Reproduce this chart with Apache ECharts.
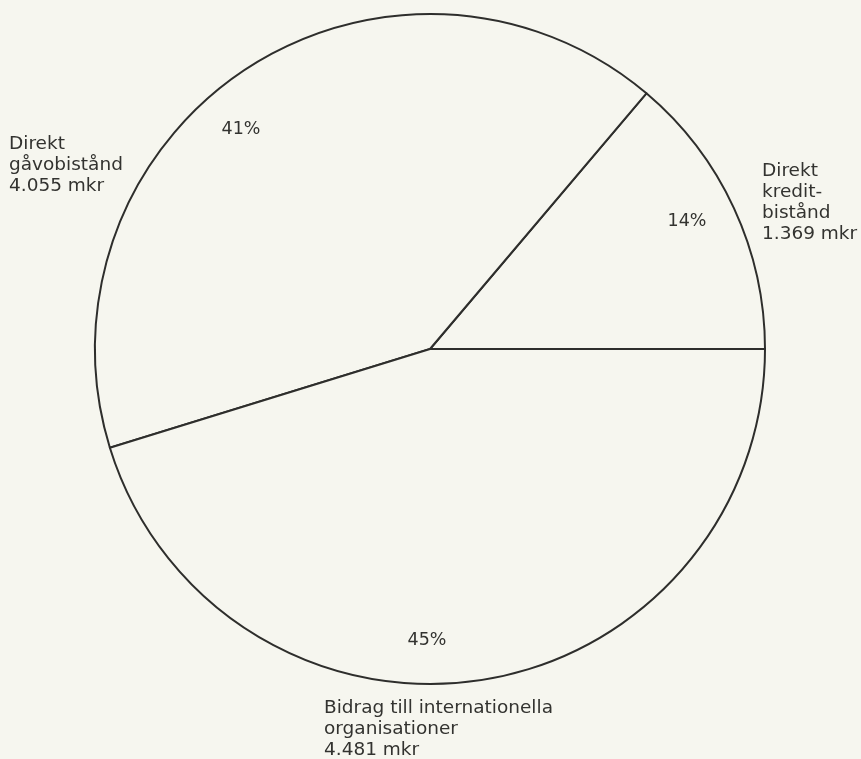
<!DOCTYPE html>
<html>
<head>
<meta charset="utf-8">
<script src="https://cdn.jsdelivr.net/npm/echarts@6/dist/echarts.min.js"></script>
<style>
  html, body { margin: 0; padding: 0; background: #f6f6ef; }
  #chart { width: 861px; height: 759px; }
</style>
</head>
<body>
<div id="chart"></div>
<script>
// Fördelning av biståndet (mkr)
const categories = ['Direkt\nkredit-\nbistånd', 'Direkt\ngåvobistånd', 'Bidrag till internationella\norganisationer'];
const amounts = [1369, 4055, 4481];

const FONT = '"DejaVu Sans", sans-serif';
const INK = '#333330';

// Placement of the percentage figures inside each sector, and of the name labels
const pctPos = [[687, 221], [241, 129], [427, 640]];
const namePos = [
  { x: 762, y: 161, align: 'left' },
  { x: 9, y: 134, align: 'left' },
  { x: 324, y: 698, align: 'left' }
];

function mkr(v) {
  return String(v).replace(/\B(?=(\d{3})+(?!\d))/g, '.') + ' mkr';
}

const chart = echarts.init(document.getElementById('chart'), null, { renderer: 'canvas' });

chart.setOption({
  backgroundColor: '#f6f6ef',
  animation: false,
  series: [{
    type: 'pie',
    center: [430, 349],
    radius: 335,
    startAngle: 0,
    clockwise: false,
    silent: true,
    itemStyle: { color: '#f6f6ef', borderColor: '#2e2e2c', borderWidth: 2 },
    label: {
      show: true,
      position: 'inside',
      formatter: p => Math.round(p.percent) + '%',
      fontFamily: FONT,
      fontSize: 17.5,
      color: INK
    },
    labelLine: { show: false },
    labelLayout: p => ({
      x: pctPos[p.dataIndex][0],
      y: pctPos[p.dataIndex][1],
      align: 'center',
      verticalAlign: 'middle'
    }),
    data: categories.map((c, i) => ({ name: c, value: amounts[i] }))
  }],
  graphic: categories.map((c, i) => ({
    type: 'text',
    left: namePos[i].x,
    top: namePos[i].y,
    silent: true,
    style: {
      text: c + '\n' + mkr(amounts[i]),
      fontFamily: FONT,
      fontSize: 18.5,
      lineHeight: 21,
      fill: INK,
      align: namePos[i].align
    }
  }))
});
</script>
</body>
</html>
